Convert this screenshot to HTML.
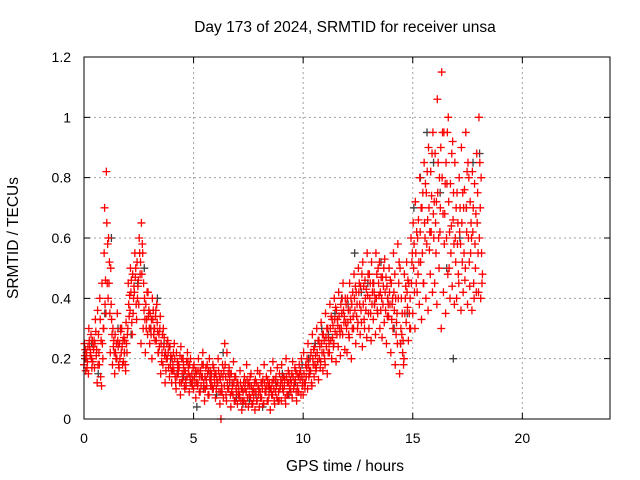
<!DOCTYPE html>
<html><head><meta charset="utf-8"><style>
body{margin:0;background:#fff}
svg{display:block;font-family:"Liberation Sans",sans-serif}
</style></head><body>
<svg id="chart" width="640" height="480" viewBox="0 0 640 480">
<rect width="640" height="480" fill="#fff"/>
<text x="345" y="32" font-size="15.5" text-anchor="middle">Day 173 of 2024, SRMTID for receiver unsa</text>
<text x="0" y="0" font-size="15.5" text-anchor="middle" transform="translate(18,238) rotate(-90)">SRMTID / TECUs</text>
<text x="345" y="471" font-size="15.5" text-anchor="middle">GPS time / hours</text>
<g id="grid"></g><g id="ticks"></g><g id="marks"></g>
<rect x="84" y="57" width="526" height="362" fill="none" stroke="#000" stroke-width="1"/>
</svg>
<script>
const xTicks=[0,5,10,15,20];
const yTicks=[0,0.2,0.4,0.6,0.8,1,1.2];
const yTickLabels=["0","0.2","0.4","0.6","0.8","1","1.2"];
const redStart=0, redStep=0.1;
const redA=[.18,.20,.15,.22,.19,.25,.12,.18,.11,.30,
.35,.40,.22,.18,.15,.20,.17,.22,.19,.16,
.30,.36,.28,.42,.33,.38,.25,.30,.22,.28,
.25,.20,.30,.26,.22,.15,.18,.12,.20,.14,
.12,.16,.10,.15,.08,.13,.10,.14,.09,.12,
.10,.07,.12,.09,.14,.06,.11,.08,.13,.10,
.07,.12,.05,.09,.11,.06,.10,.04,.08,.06,
.05,.08,.03,.06,.09,.04,.07,.05,.03,.06,
.04,.07,.05,.09,.06,.03,.08,.05,.07,.06,
.06,.09,.05,.08,.10,.07,.12,.06,.09,.08,
.08,.12,.10,.15,.11,.14,.17,.13,.19,.16,
.18,.15,.22,.20,.25,.19,.24,.21,.28,.23,
.22,.27,.20,.30,.25,.32,.28,.24,.30,.27,
.30,.26,.33,.28,.35,.30,.27,.32,.25,.34,
.22,.30,.18,.25,.15,.28,.20,.32,.26,.30,
.35,.30,.42,.38,.33,.45,.40,.36,.48,.42,
.45,.38,.50,.30,.42,.35,.48,.40,.44,.38,
.40,.45,.36,.42,.50,.38,.44,.36,.40,.42,
.42,.40];
const redB=[.25,.22,.30,.28,.24,.33,.36,.40,.45,.55,
.82,.60,.50,.30,.28,.35,.25,.30,.27,.32,
.45,.50,.48,.55,.52,.60,.65,.45,.38,.42,
.35,.40,.30,.38,.28,.25,.30,.22,.26,.24,
.20,.25,.22,.18,.24,.20,.16,.22,.18,.15,
.18,.15,.20,.16,.22,.14,.18,.20,.15,.17,
.15,.20,.13,.18,.25,.22,.17,.15,.19,.14,
.12,.16,.10,.14,.18,.12,.15,.10,.13,.16,
.15,.12,.18,.14,.11,.16,.19,.13,.17,.15,
.18,.14,.20,.16,.13,.19,.17,.15,.18,.20,
.22,.18,.25,.20,.28,.24,.30,.26,.32,.28,
.35,.30,.38,.33,.40,.36,.42,.38,.45,.40,
.40,.45,.38,.48,.42,.50,.44,.52,.46,.55,
.48,.52,.45,.55,.50,.42,.47,.53,.44,.50,
.45,.55,.40,.58,.50,.35,.48,.52,.45,.60,
.65,.72,.60,.80,.70,.85,.75,.90,.82,.95,
.88,1.06,.80,1.15,.95,.85,1.00,.78,.92,.85,
.75,.80,.90,.70,.95,.85,.72,.82,.78,.88,
1.00,.80];
const redC=[.21,.17,.26,.20,.23,.29,.18,.33,.25,.70,
.65,.45,.38,.24,.22,.26,.20,.24,.22,.25,
.38,.42,.35,.47,.40,.55,.48,.36,.30,.34,
.30,.33,.26,.32,.24,.19,.24,.16,.22,.18,
.16,.20,.14,.17,.12,.18,.13,.19,.14,.11,
.14,.12,.16,.11,.18,.10,.15,.13,.11,.14,
.10,.16,.09,.14,.18,.12,.13,.09,.12,.10,
.08,.12,.06,.10,.13,.08,.11,.07,.09,.11,
.09,.10,.12,.11,.08,.10,.13,.09,.12,.10,
.12,.11,.14,.12,.09,.14,.13,.11,.15,.14,
.15,.14,.18,.16,.20,.18,.22,.20,.25,.22,
.27,.22,.30,.27,.33,.28,.34,.30,.36,.32,
.32,.36,.30,.40,.34,.42,.36,.38,.40,.41,
.40,.38,.42,.40,.45,.36,.38,.42,.34,.42,
.33,.42,.28,.40,.25,.22,.35,.42,.35,.45,
.50,.55,.48,.62,.55,.65,.58,.70,.62,.68,
.65,.75,.62,.80,.58,.60,.72,.55,.66,.60,
.58,.62,.65,.55,.70,.60,.55,.62,.58,.65,
.60,.55];
const redD=[.23,.19,.24,.17,.26,.21,.28,.14,.20,.38,
.45,.52,.33,.26,.20,.24,.30,.18,.26,.22,
.34,.46,.40,.50,.44,.48,.58,.40,.33,.36,
.28,.36,.34,.29,.30,.22,.27,.20,.17,.21,
.18,.14,.19,.12,.20,.16,.11,.17,.20,.13,
.12,.16,.09,.14,.12,.17,.08,.16,.10,.12,
.13,.09,.15,.07,.14,.10,.15,.12,.06,.09,
.10,.06,.09,.12,.07,.11,.05,.09,.12,.08,
.07,.13,.09,.06,.12,.08,.10,.14,.06,.11,
.10,.13,.08,.15,.12,.10,.16,.09,.13,.11,
.12,.17,.14,.22,.18,.21,.19,.24,.22,.26,
.24,.27,.26,.31,.29,.33,.30,.35,.32,.38,
.36,.33,.42,.36,.38,.45,.32,.44,.36,.48,
.45,.42,.38,.48,.41,.47,.44,.36,.40,.38,
.38,.36,.32,.45,.30,.26,.40,.37,.30,.52,
.58,.45,.66,.52,.75,.60,.82,.56,.74,.60,
.55,.85,.70,.95,.68,.78,.50,.64,.75,.52,
.65,.70,.52,.76,.62,.80,.65,.70,.50,.75,
.85,.45];
const redE=[.16,.24,.21,.26,.17,.23,.22,.26,.30,.46,
.58,.35,.28,.22,.25,.18,.29,.26,.18,.28,
.41,.32,.44,.38,.46,.52,.55,.33,.42,.30,
.33,.28,.36,.22,.34,.28,.21,.25,.24,.16,
.22,.12,.17,.21,.15,.11,.19,.15,.12,.17,
.16,.11,.14,.18,.10,.13,.16,.11,.18,.15,
.12,.14,.11,.16,.08,.15,.08,.11,.14,.12,
.07,.10,.12,.05,.11,.14,.09,.12,.06,.10,
.12,.05,.10,.13,.10,.12,.06,.11,.09,.13,
.14,.07,.12,.10,.15,.11,.09,.14,.16,.12,
.10,.20,.16,.12,.23,.16,.26,.17,.28,.20,
.30,.25,.34,.24,.37,.31,.28,.40,.34,.30,
.28,.40,.34,.44,.30,.38,.48,.33,.43,.35,
.35,.45,.40,.36,.52,.40,.50,.47,.38,.46,
.40,.48,.35,.52,.40,.18,.44,.46,.40,.55,
.42,.62,.52,.70,.45,.78,.66,.62,.88,.72,
.72,.60,.90,.68,.78,.95,.62,.88,.58,.70,
.48,.58,.75,.46,.82,.52,.60,.45,.68,.55,
.70,.48];
const darkStart=0.05, darkStep=0.3;
const dark=[.20,.25,.15,.35,.60,.30,.22,.28,.45,.50,.30,.40,.25,.20,.15,.14,.12,.04,.10,.15,.08,.22,.12,.07,.05,.06,.08,.04,.10,.12,.15,.08,.12,.18,.20,.25,.30,.28,.35,.40,.38,.55,.42,.45,.38,.52,.40,.30,.25,.35,.70,.80,.95,.85,.75,.50,.20,.60,.70,.85,.88];
const extraT=[6.25], extraV=[0];

const NS="http://www.w3.org/2000/svg";
const X0=84,X1=610,Y0=419,Y1=57;
function xs(t){return X0+(t/24)*(X1-X0);}
function ys(v){return Y0-(v/1.2)*(Y0-Y1);}
const grid=document.getElementById('grid'),ticks=document.getElementById('ticks'),marks=document.getElementById('marks');
function mk(tag,attrs,parent){const e=document.createElementNS(NS,tag);for(const k in attrs)e.setAttribute(k,attrs[k]);parent.appendChild(e);return e;}
xTicks.forEach((t,i)=>{
  const x=xs(t);
  if(i>0){const g=mk('line',{x1:x,x2:x,y1:Y0,y2:Y1,stroke:'#a0a0a0','stroke-dasharray':'2,3'},grid);
  
  }
  const tk=mk('path',{d:`M${x},${Y0}v-6M${x},${Y1}v6`,stroke:'#000'},ticks);
  
  
  const l=mk('text',{x:x,y:Y0+24,'font-size':14,'text-anchor':'middle'},ticks);l.textContent=String(t);
  
  
});
yTicks.forEach((v,i)=>{
  const y=ys(v);
  if(i>0&&i<yTicks.length-1){const g=mk('line',{x1:X0,x2:X1,y1:y,y2:y,stroke:'#a0a0a0','stroke-dasharray':'2,3'},grid);
  
  }
  const tk=mk('path',{d:`M${X0},${y}h6M${X1},${y}h-6`,stroke:'#000'},ticks);
  
  
  const l=mk('text',{x:X0-13,y:y+5,'font-size':14,'text-anchor':'end'},ticks);l.textContent=yTickLabels[i];
  
  
});
function plus(t,v,color,name){
  const x=xs(t),y=ys(v);
  const p=mk('path',{d:`M${x-4},${y}h8M${x},${y-4}v8`,stroke:color,'stroke-width':1.3},marks);
  
  
}
dark.forEach((v,i)=>plus(darkStart+i*darkStep,v,'#404040','dark-point'));
[redA,redB,redC,redD,redE].forEach((arr,k)=>arr.forEach((v,i)=>plus(redStart+i*redStep+k*0.02,v,'#ff0000','red-point')));
extraT.forEach((t,i)=>plus(t,extraV[i],'#ff0000','red-point'));
</script>
</body></html>
